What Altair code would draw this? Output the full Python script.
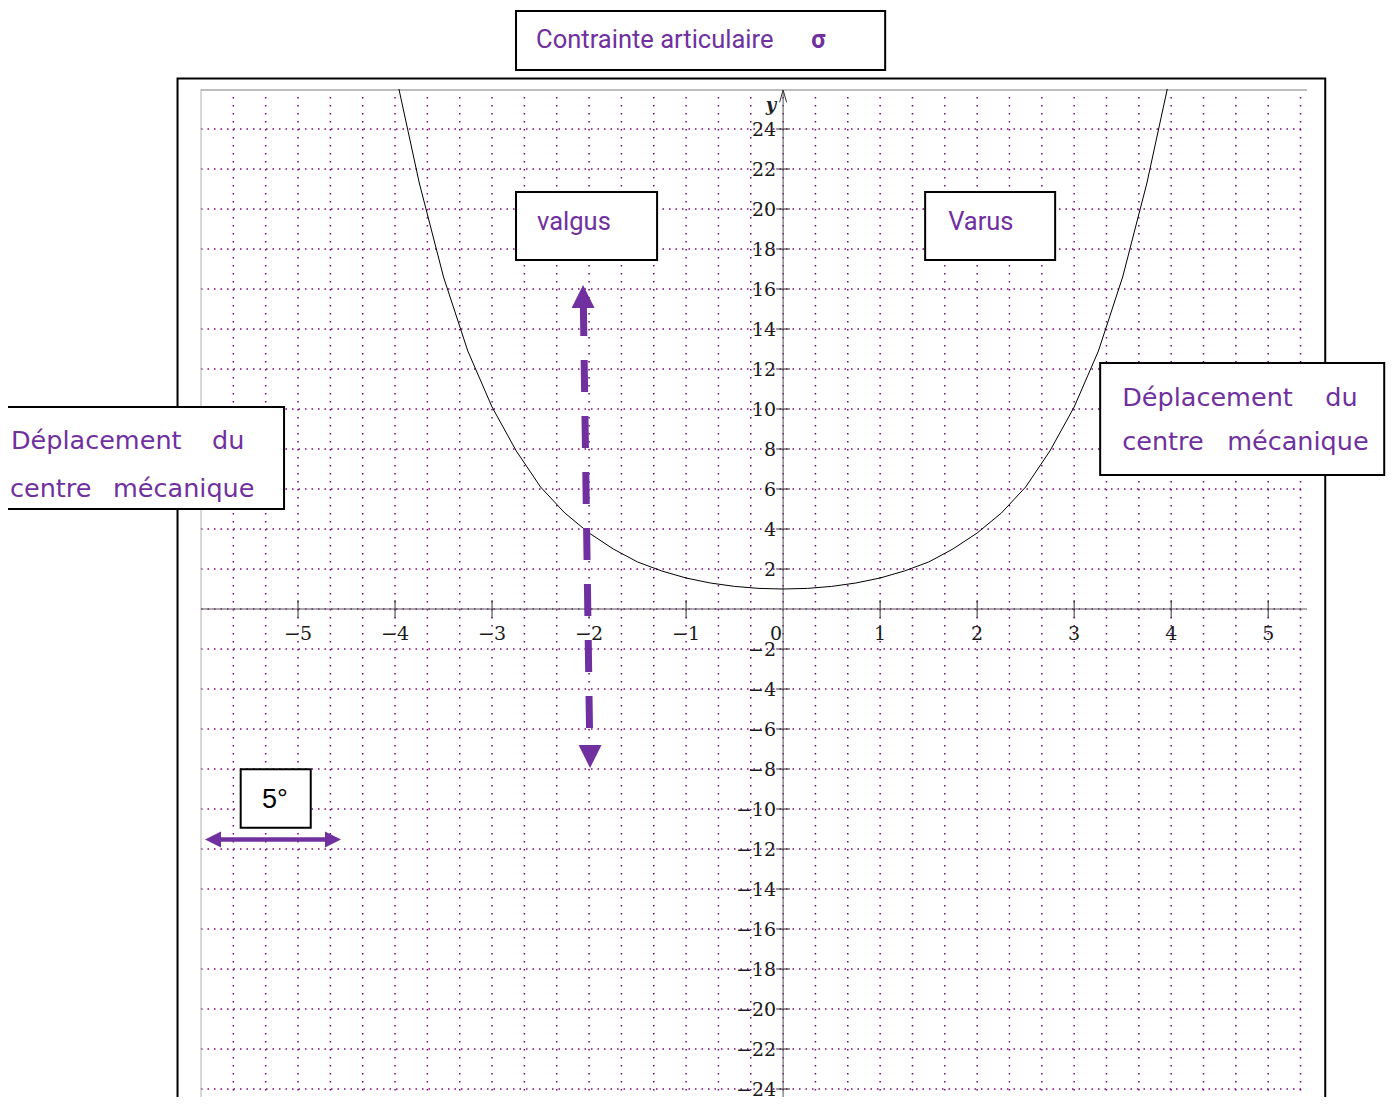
import altair as alt
import pandas as pd

# ---------------- data ----------------
curve_x = [-3.96, -3.75, -3.5, -3.25, -3.0, -2.75, -2.5, -2.25, -2.0, -1.75, -1.5, -1.25,
           -1.0, -0.75, -0.5, -0.25, 0.0, 0.25, 0.5, 0.75, 1.0, 1.25, 1.5, 1.75, 2.0,
           2.25, 2.5, 2.75, 3.0, 3.25, 3.5, 3.75, 3.96]
curve_y = [26.0, 21.3, 16.6, 12.9, 10.1, 7.9, 6.1, 4.8, 3.8, 3.0, 2.35, 1.9,
           1.55, 1.3, 1.13, 1.03, 1.0, 1.03, 1.13, 1.3, 1.55, 1.9, 2.35, 3.0, 3.8,
           4.8, 6.1, 7.9, 10.1, 12.9, 16.6, 21.3, 26.0]

x_tick_values = [-5, -4, -3, -2, -1, 1, 2, 3, 4, 5]
x_tick_labels = ["−5", "−4", "−3", "−2", "−1", "1", "2", "3", "4", "5"]
y_tick_values = [24, 22, 20, 18, 16, 14, 12, 10, 8, 6, 4, 2,
                 -2, -4, -6, -8, -10, -12, -14, -16, -18, -20, -22, -24]
y_tick_labels = ["24", "22", "20", "18", "16", "14", "12", "10", "8", "6", "4", "2",
                 "−2", "−4", "−6", "−8", "−10", "−12", "−14", "−16", "−18", "−20", "−22", "−24"]

title_text = "Contrainte articulaire"
sigma_text = "σ"
valgus_text = "valgus"
varus_text = "Varus"
dep_words = ["Déplacement", "du", "centre", "mécanique"]
angle_text = "5°"

# ---------------- scales ----------------
XMIN, XMAX = -6.0, 5.4
YMIN, YMAX = -24.4, 26.0
xs = alt.Scale(domain=[XMIN, XMAX], nice=False, zero=False)
ys = alt.Scale(domain=[YMIN, YMAX], nice=False, zero=False)

PURPLE = "#7030A0"
GRID = "#800080"


def X(f="x"):
    return alt.X(f"{f}:Q", scale=xs, axis=None)


def Y(f="y"):
    return alt.Y(f"{f}:Q", scale=ys, axis=None)


def df(**cols):
    return pd.DataFrame(cols)


layers = []

# grid: vertical dotted lines every 1/3 unit, horizontal every 2 units
vgrid = [round(XMIN + k / 3, 4) for k in range(1, 35)]
layers.append(alt.Chart(df(x=vgrid, y=[YMAX] * len(vgrid), y2=[YMIN] * len(vgrid)))
              .mark_rule(color=GRID, strokeWidth=1.5, strokeDash=[1.5, 6.5])
              .encode(x=X(), y=Y(), y2="y2:Q"))
hgrid = list(range(-24, 25, 2))
layers.append(alt.Chart(df(y=hgrid, x=[XMIN] * len(hgrid), x2=[5.34] * len(hgrid)))
              .mark_rule(color=GRID, strokeWidth=1.5, strokeDash=[1.5, 5])
              .encode(x=X(), x2="x2:Q", y=Y()))

# plot borders (top gray, left gray)
layers.append(alt.Chart(df(x=[XMIN], x2=[XMAX], y=[25.95]))
              .mark_rule(color="#bdbdbd", strokeWidth=2)
              .encode(x=X(), x2="x2:Q", y=Y()))
layers.append(alt.Chart(df(x=[XMIN], y=[YMAX], y2=[YMIN]))
              .mark_rule(color="#b0b0b0", strokeWidth=1)
              .encode(x=X(), y=Y(), y2="y2:Q"))

# axes through the origin
layers.append(alt.Chart(df(x=[XMIN], x2=[XMAX], y=[0]))
              .mark_rule(color="#555555", strokeWidth=1)
              .encode(x=X(), x2="x2:Q", y=Y()))
layers.append(alt.Chart(df(x=[0], y=[25.95], y2=[YMIN]))
              .mark_rule(color="#555555", strokeWidth=1)
              .encode(x=X(), y=Y(), y2="y2:Q"))
layers.append(alt.Chart(df(x=[0], y=[25.95]))
              .mark_point(shape="M-1,3.5L0,0L1,3.5", size=49, filled=False,
                          color="#333333", strokeWidth=1, opacity=1)
              .encode(x=X(), y=Y()))
layers.append(alt.Chart(df(x=[-0.124], y=[24.9], t=["y"]))
              .mark_text(font="DejaVu Serif", fontSize=18, fontStyle="italic",
                         fontWeight="bold", align="center", baseline="alphabetic", color="#222222")
              .encode(x=X(), y=Y(), text="t:N"))

# ticks
n = len(x_tick_values)
layers.append(alt.Chart(df(x=x_tick_values, y=[0.45] * n, y2=[-0.45] * n))
              .mark_rule(color="#333333", strokeWidth=1)
              .encode(x=X(), y=Y(), y2="y2:Q"))
m = len(y_tick_values)
layers.append(alt.Chart(df(y=y_tick_values, x=[-0.072] * m, x2=[0.072] * m))
              .mark_rule(color="#333333", strokeWidth=1)
              .encode(x=X(), x2="x2:Q", y=Y()))

# tick labels
layers.append(alt.Chart(df(x=x_tick_values, y=[0] * n, t=x_tick_labels))
              .mark_text(font="DejaVu Serif", fontSize=19, align="center",
                         baseline="alphabetic", dy=31, color="#1a1a1a")
              .encode(x=X(), y=Y(), text="t:N"))
layers.append(alt.Chart(df(x=[0], y=[0], t=["0"]))
              .mark_text(font="DejaVu Serif", fontSize=19, align="right",
                         baseline="alphabetic", dx=-1, dy=31, color="#1a1a1a")
              .encode(x=X(), y=Y(), text="t:N"))
layers.append(alt.Chart(df(x=[0] * m, y=y_tick_values, t=y_tick_labels))
              .mark_text(font="DejaVu Serif", fontSize=19, align="right",
                         baseline="alphabetic", dx=-7, dy=7, color="#1a1a1a")
              .encode(x=X(), y=Y(), text="t:N"))

# the curve
layers.append(alt.Chart(df(x=curve_x, y=curve_y, o=list(range(len(curve_x)))))
              .mark_line(color="black", strokeWidth=1, clip=True)
              .encode(x=X(), y=Y(), order="o:Q"))

# outer frame
layers.append(alt.Chart(df(x=[-6.242], x2=[5.588], y=[26.525], y2=[-40]))
              .mark_rect(fillOpacity=0, stroke="black", strokeWidth=2)
              .encode(x=X(), x2="x2:Q", y=Y(), y2="y2:Q"))

# boxes
boxes = df(x=[-2.753, -2.753, 1.464, -8.3, 3.268, -5.591],
           x2=[1.052, -1.299, 2.804, -5.144, 6.196, -4.869],
           y=[29.9, 20.85, 20.85, 10.1, 12.3, -8.015],
           y2=[26.95, 17.45, 17.45, 5.0, 6.7, -10.935])
layers.append(alt.Chart(boxes)
              .mark_rect(fill="white", stroke="black", strokeWidth=2)
              .encode(x=X(), x2="x2:Q", y=Y(), y2="y2:Q"))

# purple labels
layers.append(alt.Chart(df(x=[-2.546, -2.536, 1.701], y=[28.05, 18.95, 18.95],
                           t=[title_text, valgus_text, varus_text]))
              .mark_text(font="Roboto", fontSize=25.5, align="left",
                         baseline="alphabetic", color=PURPLE)
              .encode(x=X(), y=Y(), text="t:N"))
layers.append(alt.Chart(df(x=[0.289], y=[28.05], t=[sigma_text]))
              .mark_text(font="Roboto", fontSize=25, fontWeight="bold", align="left",
                         baseline="alphabetic", color=PURPLE)
              .encode(x=X(), y=Y(), text="t:N"))
layers.append(alt.Chart(df(x=[-7.959, -5.887, -7.969, -6.907, 3.495, 5.588, 3.495, 4.577],
                           y=[8.0, 8.0, 5.6, 5.6, 10.17, 10.17, 7.95, 7.95],
                           t=dep_words * 2))
              .mark_text(font="DejaVu Sans", fontSize=25.5, align="left",
                         baseline="alphabetic", color=PURPLE)
              .encode(x=X(), y=Y(), text="t:N"))
layers.append(alt.Chart(df(x=[-5.371], y=[-9.95], t=[angle_text]))
              .mark_text(font="Liberation Sans", fontSize=27, align="left",
                         baseline="alphabetic", color="black")
              .encode(x=X(), y=Y(), text="t:N"))

# dashed vertical arrow
layers.append(alt.Chart(df(x=[-2.059], x2=[-1.993], y=[15.25], y2=[-6.8]))
              .mark_rule(color=PURPLE, strokeWidth=7, strokeDash=[32, 24], strokeCap="butt")
              .encode(x=X(), x2="x2:Q", y=Y(), y2="y2:Q"))
layers.append(alt.Chart(df(x=[-2.062], y=[16.2]))
              .mark_point(shape="M0,0L-1,2L1,2Z", size=529, filled=True, color=PURPLE, opacity=1)
              .encode(x=X(), y=Y()))
layers.append(alt.Chart(df(x=[-1.99], y=[-7.95]))
              .mark_point(shape="M0,0L-1,-2L1,-2Z", size=529, filled=True, color=PURPLE, opacity=1)
              .encode(x=X(), y=Y()))

# double arrow under 5°
layers.append(alt.Chart(df(x=[-5.85], x2=[-4.65], y=[-11.525]))
              .mark_rule(color=PURPLE, strokeWidth=4.5)
              .encode(x=X(), x2="x2:Q", y=Y()))
layers.append(alt.Chart(df(x=[-5.959], y=[-11.525]))
              .mark_point(shape="M0,0L2,-1L2,1Z", size=256, filled=True, color=PURPLE, opacity=1)
              .encode(x=X(), y=Y()))
layers.append(alt.Chart(df(x=[-4.557], y=[-11.525]))
              .mark_point(shape="M0,0L-2,-1L-2,1Z", size=256, filled=True, color=PURPLE, opacity=1)
              .encode(x=X(), y=Y()))

chart = (alt.layer(*layers)
         .properties(width=1106, height=1008,
                     padding={"left": 193, "top": 81, "right": 79, "bottom": 0},
                     autosize=alt.AutoSizeParams(type="none"),
                     background="white")
         .configure_view(strokeWidth=0))

chart.save("out.html", embed_options={"renderer": "svg", "actions": False})
